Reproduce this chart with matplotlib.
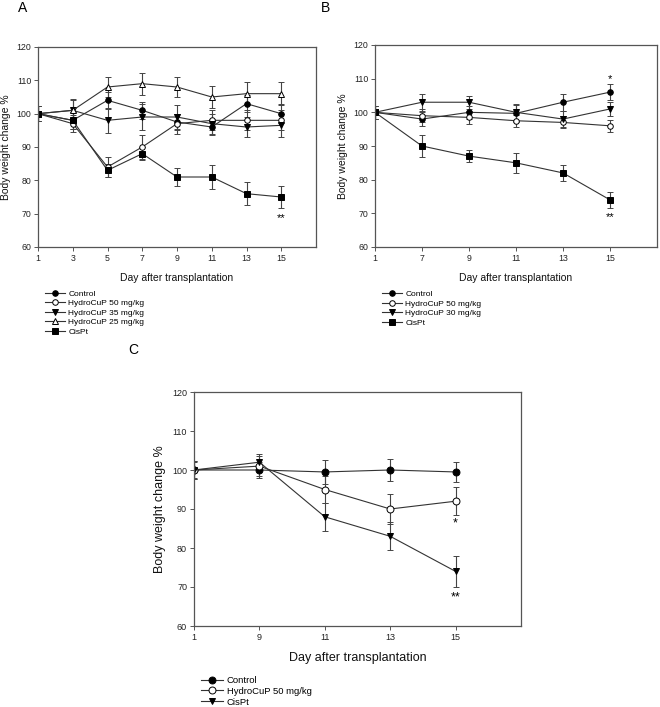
import matplotlib
matplotlib.use("Agg")
import matplotlib.pyplot as plt
from matplotlib.lines import Line2D
import numpy as np

plt.rcParams['font.family'] = ['Liberation Sans', 'DejaVu Sans']

# ---------------- Panel A data ----------------
a_days = [1, 3, 5, 7, 9, 11, 13, 15]
a_control = [100, 98, 104, 101, 97.5, 96, 103, 100]
a_control_err = [2.3, 2.5, 2.5, 2.5, 2.5, 2.5, 2.5, 2.8]
a_h50 = [100, 97, 84, 90, 97, 98, 98, 98]
a_h50_err = [2.3, 2.5, 3, 3.5, 3, 3, 3, 3]
a_h35 = [100, 101, 98, 99, 99, 97, 96, 96.5]
a_h35_err = [2.3, 3, 3.8, 3.8, 3.5, 3, 3, 3.5]
a_h25 = [100, 101, 108, 109, 108, 105, 106, 106]
a_h25_err = [2.3, 3.3, 3, 3.3, 3, 3.3, 3.5, 3.5]
a_cis = [100, 98, 83, 88, 81, 81, 76, 75]
a_cis_err = [2.3, 2.5, 2, 2, 2.6, 3.5, 3.5, 3.2]

# ---------------- Panel B data ----------------
b_days = ['1', '7', '9', '11', '13', '15']
b_control = [100, 98, 100, 99.7, 103, 106]
b_control_err = [2, 2, 2, 2.5, 2.5, 2.4]
b_h50 = [100, 99, 98.5, 97.5, 97, 96]
b_h50_err = [2, 2, 2, 1.8, 1.8, 1.8]
b_h30 = [100, 103, 103, 100, 98, 101]
b_h30_err = [2, 2.5, 2, 2.5, 2.5, 2]
b_cis = [100, 90, 87, 85, 82, 74]
b_cis_err = [2, 3.2, 1.9, 3, 2.5, 2.4]

# ---------------- Panel C data ----------------
c_days = ['1', '9', '11', '13', '15']
c_control = [100, 100, 99.5, 100, 99.5]
c_control_err = [2.3, 2, 3, 2.7, 2.5]
c_h50 = [100, 101, 95, 90, 92]
c_h50_err = [2, 2.5, 3.5, 3.8, 3.6]
c_cis = [100, 102, 88, 83, 74]
c_cis_err = [2.3, 2, 3.6, 3.6, 4]

fig = plt.figure(figsize=(6.6, 7.07), dpi=100)
W, H = 660, 707


def axes_px(l, t, r, b):
    return fig.add_axes([l / W, 1 - b / H, (r - l) / W, (b - t) / H])


SPINE = '#555555'


def style(ax, tick_fs, label_fs):
    for s in ax.spines.values():
        s.set_color(SPINE)
        s.set_linewidth(0.9)
    ax.tick_params(direction='out', length=3, width=0.7, color=SPINE,
                   labelsize=tick_fs, labelcolor='#222222', pad=2)
    ax.set_ylim(60, 120)
    ax.set_yticks([60, 70, 80, 90, 100, 110, 120])
    ax.set_ylabel('Body weight change %', fontsize=label_fs, color='#111111', labelpad=4)
    ax.set_xlabel('Day after transplantation', fontsize=label_fs, color='#111111', labelpad=7)


def series(ax, x, y, e, marker, filled, label, ms):
    ax.errorbar(x, y, yerr=e, color='#333333', ecolor='#444444', elinewidth=0.8,
                capsize=2.5, capthick=0.8, lw=0.8, marker=marker, ms=ms,
                mfc='black' if filled else 'white', mec='black', mew=0.7)
    return Line2D([], [], color='#333333', lw=0.8, marker=marker, ms=ms,
                  mfc='black' if filled else 'white', mec='black', mew=0.7, label=label)


def legend(ax, handles, anchor, fs, spacing):
    ax.legend(handles=handles, loc='upper left', bbox_to_anchor=anchor, frameon=False,
              fontsize=fs, handlelength=2.4, handletextpad=0.4, labelspacing=spacing,
              borderaxespad=0, borderpad=0)


# ---- Panel A ----
axA = axes_px(38, 47, 316, 247)
ms = 4
hA = [
    series(axA, a_days, a_control, a_control_err, 'o', True, 'Control', ms),
    series(axA, a_days, a_h50, a_h50_err, 'o', False, 'HydroCuP 50 mg/kg', ms),
    series(axA, a_days, a_h35, a_h35_err, 'v', True, 'HydroCuP 35 mg/kg', ms),
    series(axA, a_days, a_h25, a_h25_err, '^', False, 'HydroCuP 25 mg/kg', ms),
    series(axA, a_days, a_cis, a_cis_err, 's', True, 'CisPt', ms),
]
axA.set_xlim(1, 17)
axA.set_xticks(a_days)
style(axA, 6.3, 7.5)
axA.text(15, 68.6, '**', ha='center', va='center', fontsize=8)
legend(axA, hA, (0.025, -0.215), 6, 0.2)

# ---- Panel B ----
axB = axes_px(375, 45, 657, 247)
xb = np.arange(len(b_days))
hB = [
    series(axB, xb, b_control, b_control_err, 'o', True, 'Control', ms),
    series(axB, xb, b_h50, b_h50_err, 'o', False, 'HydroCuP 50 mg/kg', ms),
    series(axB, xb, b_h30, b_h30_err, 'v', True, 'HydroCuP 30 mg/kg', ms),
    series(axB, xb, b_cis, b_cis_err, 's', True, 'CisPt', ms),
]
axB.set_xlim(0, 6)
axB.set_xticks(xb)
axB.set_xticklabels(b_days)
style(axB, 6.3, 7.5)
axB.text(5, 110.0, '*', ha='center', va='center', fontsize=8)
axB.text(5, 68.8, '**', ha='center', va='center', fontsize=8)
legend(axB, hB, (0.025, -0.215), 6, 0.2)

# ---- Panel C ----
axC = axes_px(194, 392, 521, 626)
xc = np.arange(len(c_days))
msc = 5
hC = [
    series(axC, xc, c_control, c_control_err, 'o', True, 'Control', msc),
    series(axC, xc, c_h50, c_h50_err, 'o', False, 'HydroCuP 50 mg/kg', msc),
    series(axC, xc, c_cis, c_cis_err, 'v', True, 'CisPt', msc),
]
axC.set_xlim(0, 5)
axC.set_xticks(xc)
axC.set_xticklabels(c_days)
style(axC, 6.5, 9)
axC.text(4, 86.2, '*', ha='center', va='center', fontsize=9)
axC.text(4, 67.2, '**', ha='center', va='center', fontsize=9)
legend(axC, hC, (0.02, -0.213), 6.8, 0.2)

fig.text(23 / W, 1 - 8 / H, 'A', fontsize=10, ha='center', va='center')
fig.text(325 / W, 1 - 8 / H, 'B', fontsize=10, ha='center', va='center')
fig.text(133 / W, 1 - 350 / H, 'C', fontsize=10, ha='center', va='center')

fig.savefig('out.png', dpi=100)
